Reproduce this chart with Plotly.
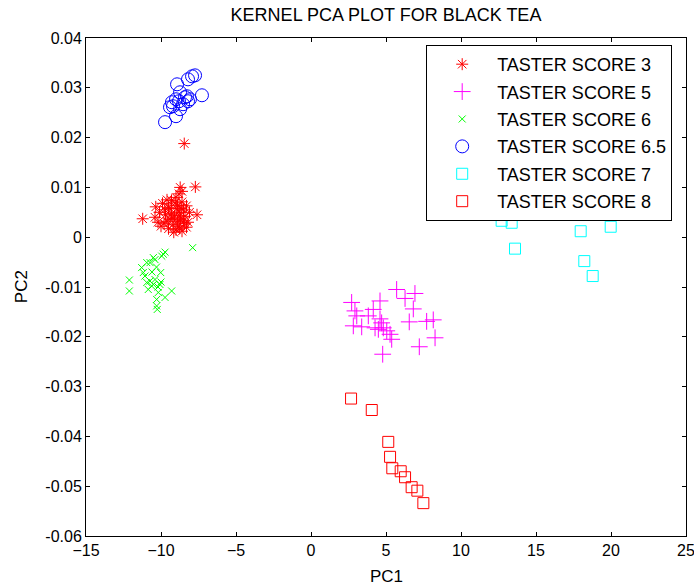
import plotly.graph_objects as go

# ---------------- data ----------------
score3_x = [-8.45, -7.71, -8.72, -8.6, -8.8, -11.22, -7.6, -10.35,
            -10.1, -9.9, -9.7, -9.6, -9.4, -9.3, -9.1, -9.0, -8.9, -8.8, -8.7, -8.6,
            -8.5, -8.4, -8.3, -8.2, -8.1, -9.2, -9.5, -9.0, -8.8, -8.6, -9.8, -10.2,
            -10.0, -8.5, -8.3, -9.3, -8.95, -8.75, -9.6, -10.4, -9.2, -9.05, -8.45,
            -9.5, -8.75, -9.15, -8.9, -9.4, -8.65, -9.75]
score3_y = [0.0188, 0.0101, 0.0100, 0.0092, 0.0087, 0.0037, 0.0045, 0.0061,
            0.0050, 0.0068, 0.0045, 0.0032, 0.0058, 0.0074, 0.0043, 0.0080, 0.0064, 0.0050, 0.0036, 0.0071,
            0.0055, 0.0042, 0.0063, 0.0030, 0.0050, 0.0025, 0.0017, 0.0015, 0.0022, 0.0012, 0.0028, 0.0030,
            0.0022, 0.0033, 0.0020, 0.0047, 0.0057, 0.0043, 0.0075, 0.0040, 0.0038, 0.0069, 0.0027,
            0.0060, 0.0018, 0.0010, 0.0031, 0.0036, 0.0058, 0.0055]

score5_x = [2.71, 5.71, 6.93, 6.27, 4.60, 4.15, 6.82, 2.93, 3.05, 3.82, 4.60, 4.71, 2.82,
            3.38, 4.27, 4.49, 4.82, 5.05, 5.27, 5.38, 6.55, 7.71, 8.15, 8.27, 7.22, 4.78]
score5_y = [-0.0131, -0.0105, -0.0113, -0.0123, -0.0128, -0.0145, -0.0144, -0.0148, -0.0158,
            -0.0158, -0.0164, -0.0172, -0.0178, -0.0180, -0.0182, -0.0185, -0.0182, -0.0188,
            -0.0195, -0.0205, -0.0170, -0.0169, -0.0166, -0.0202, -0.0220, -0.0235]

score6_x = [-7.89, -9.73, -9.95, -10.51, -10.95, -11.29, -11.18, -10.02, -12.11, -12.11,
            -10.73, -10.51, -10.85, -10.07, -9.29, -10.18, -9.73, -10.29, -10.29, -10.25,
            -10.62, -10.95, -11.07, -10.73, -10.40, -9.85, -10.4, -10.2, -10.0, -10.6, -10.3]
score6_y = [-0.0021, -0.0030, -0.0038, -0.0041, -0.0051, -0.0061, -0.0071, -0.0071, -0.0086, -0.0108,
            -0.0088, -0.0095, -0.0105, -0.0095, -0.0108, -0.0111, -0.0121, -0.0125, -0.0138, -0.0145,
            -0.0098, -0.0091, -0.0078, -0.0051, -0.0045, -0.0034, -0.0085, -0.0100, -0.0090, -0.0070, -0.0060]

score65_x = [-9.73, -9.0, -7.27, -7.93, -7.73, -8.2, -8.93, -8.73, -9.27, -9.2, -8.73,
             -8.4, -8.07, -8.27, -9.4, -8.8, -8.2, -8.53, -9.0]
score65_y = [0.0231, 0.0243, 0.0285, 0.0323, 0.0325, 0.0317, 0.0307, 0.0291, 0.0271, 0.0263, 0.0257,
             0.0281, 0.0277, 0.0283, 0.0261, 0.0273, 0.0273, 0.0267, 0.0277]

score7_x = [12.71, 13.38, 14.27, 13.60, 17.98, 19.98, 18.22, 18.78]
score7_y = [0.0033, 0.0029, 0.0052, -0.0023, 0.0012, 0.0021, -0.0048, -0.0078]

score8_x = [2.67, 4.05, 5.15, 5.27, 5.42, 5.98, 6.27, 6.71, 7.09, 7.49]
score8_y = [-0.0324, -0.0347, -0.0411, -0.0441, -0.0464, -0.0470, -0.0482, -0.0502, -0.0509, -0.0534]

series_names = ["TASTER SCORE 3", "TASTER SCORE 5", "TASTER SCORE 6",
                "TASTER SCORE 6.5", "TASTER SCORE 7", "TASTER SCORE 8"]

x_ticks = [-15, -10, -5, 0, 5, 10, 15, 20, 25]
y_ticks = [-0.06, -0.05, -0.04, -0.03, -0.02, -0.01, 0, 0.01, 0.02, 0.03, 0.04]
y_tick_labels = ["-0.06", "-0.05", "-0.04", "-0.03", "-0.02", "-0.01", "0",
                 "0.01", "0.02", "0.03", "0.04"]

# ---------------- figure ----------------
FONT = "Liberation Sans, Arial, Helvetica, sans-serif"

styles = [
    (score3_x, score3_y, "asterisk-open", 10, "#ff0000"),
    (score5_x, score5_y, "cross-thin-open", 12, "#ff00ff"),
    (score6_x, score6_y, "x-thin-open", 7, "#00ff00"),
    (score65_x, score65_y, "circle-open", 13, "#0000ff"),
    (score7_x, score7_y, "square-open", 11, "#00ffff"),
    (score8_x, score8_y, "square-open", 11, "#ff0000"),
]

fig = go.Figure()
for i, (name, (xs, ys, sym, sz, col)) in enumerate(zip(series_names, styles)):
    fig.add_trace(go.Scatter(
        x=xs, y=ys, mode="markers", name=name, legendgroup="g%d" % i,
        marker=dict(symbol=sym, size=sz, color=col,
                    line=dict(color=col, width=1)),
    ))

axis_common = dict(
    showgrid=False, zeroline=False, showline=True, linecolor="black", linewidth=1,
    mirror="ticks", ticks="inside", ticklen=4, tickcolor="black", automargin=False,
    ticklabeloverflow="allow",
    tickfont=dict(family=FONT, size=16, color="black"),
)

fig.update_layout(
    width=694, height=588,
    margin=dict(l=86, r=8, t=38, b=52, autoexpand=False),
    paper_bgcolor="white", plot_bgcolor="white",
    title=dict(text="KERNEL PCA PLOT FOR BLACK TEA", x=0.5, xref="paper",
               y=0.975, yanchor="middle",
               font=dict(family=FONT, size=18, color="black")),
    xaxis=dict(range=[-15, 25], tickvals=x_ticks, **axis_common),
    yaxis=dict(range=[-0.06, 0.04], tickvals=y_ticks, ticktext=y_tick_labels, **axis_common),
    legend=dict(x=0.977, y=0.986, xanchor="right", yanchor="top",
                bgcolor="white", bordercolor="black", borderwidth=1,
                font=dict(family=FONT, size=18, color="black"),
                itemsizing="trace", itemwidth=60, tracegroupgap=1),
    showlegend=True,
    annotations=[
        dict(text="PC1", xref="paper", yref="paper", x=0.5, y=-0.082,
             xanchor="center", yanchor="middle", showarrow=False,
             font=dict(family=FONT, size=17, color="black")),
        dict(text="PC2", xref="paper", yref="paper", x=-0.108, y=0.5,
             xanchor="center", yanchor="middle", showarrow=False, textangle=-90,
             font=dict(family=FONT, size=17, color="black")),
    ],
)

fig.write_html(
    "out.html",
    config={"displayModeBar": False},
    post_script="document.body.style.margin='0';document.body.style.overflow='hidden';",
)
